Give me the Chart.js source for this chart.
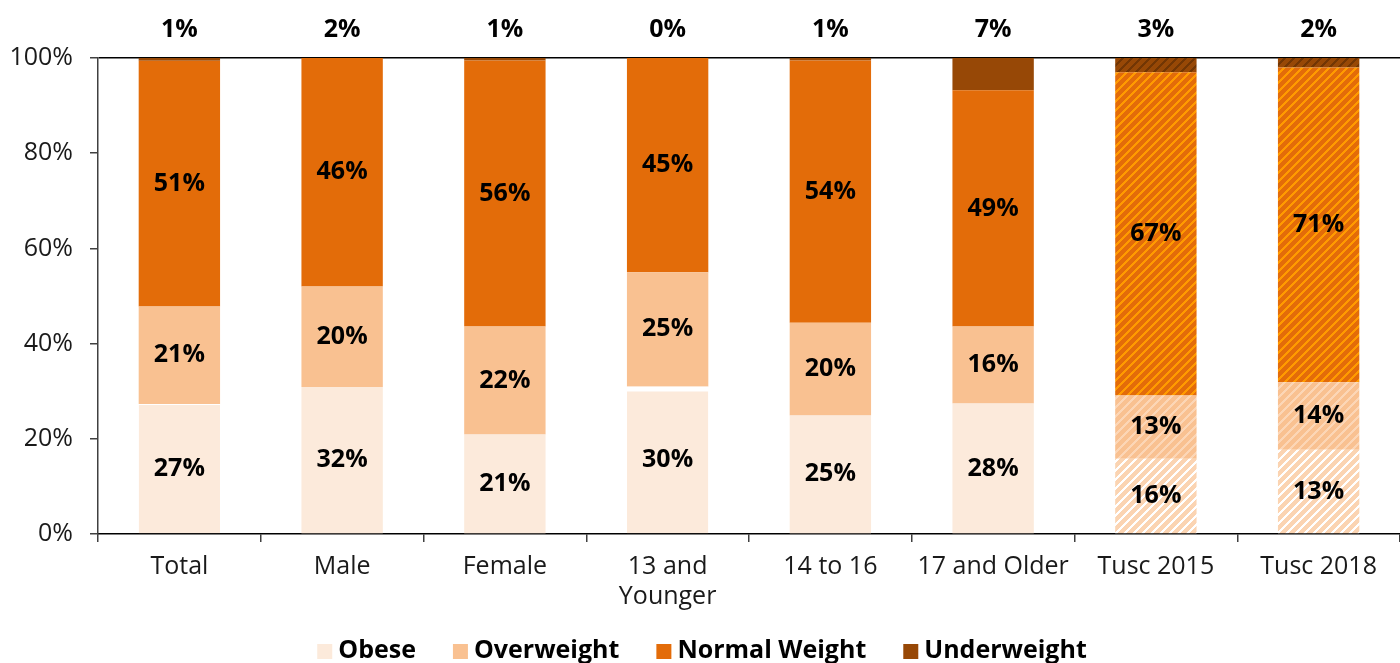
<!DOCTYPE html>
<html>
<head>
<meta charset="utf-8">
<script src="https://cdn.jsdelivr.net/npm/chart.js@4.4.1/dist/chart.umd.min.js"></script>
<style>
  html, body { margin: 0; padding: 0; background: #fff; }
  #wrap { width: 1400px; height: 663px; position: relative; }
</style>
</head>
<body>
<div id="wrap"><canvas id="chart"></canvas></div>
<script>
const categories = ['Total', 'Male', 'Female', ['13 and', 'Younger'], '14 to 16', '17 and Older', 'Tusc 2015', 'Tusc 2018'];
const seriesNames = ['Obese', 'Overweight', 'Normal Weight', 'Underweight'];

// bar heights as drawn (percent of respondents)
const obese = [27.3, 30.9, 20.9, 31, 24.9, 27.4, 15.8, 17.7];
const overweight = [20.5, 21.1, 22.7, 24, 19.5, 16.2, 13.3, 14.2];
const normalWeight = [51.6, 48, 55.9, 45, 55.1, 49.6, 67.9, 66.1];
const underweight = [0.6, 0, 0.5, 0, 0.5, 6.8, 3, 2];

// the numbers printed on the chart
const obeseText = [27, 32, 21, 30, 25, 28, 16, 13];
const overweightText = [21, 20, 22, 25, 20, 16, 13, 14];
const normalText = [51, 46, 56, 45, 54, 49, 67, 71];
const underweightText = [1, 2, 1, 0, 1, 7, 3, 2];

const yTicks = [0, 20, 40, 60, 80, 100];

const canvas = document.getElementById('chart');
const ctx = canvas.getContext('2d');

function makeHatch(base, stripe) {
  const tile = document.createElement('canvas');
  tile.width = 9;
  tile.height = 9;
  const g = tile.getContext('2d');
  g.fillStyle = base;
  g.fillRect(0, 0, 9, 9);
  g.fillStyle = stripe;
  for (let y = 0; y < 9; y++) {
    for (let x = 0; x < 9; x++) {
      if ((x + y) % 9 < 3) g.fillRect(x, y, 1, 1);
    }
  }
  return ctx.createPattern(tile, 'repeat');
}

const solid = ['#FCEADB', '#F9C191', '#E36C09', '#974806'];
const hatched = [
  makeHatch('#FBD4B2', '#FFFFFF'),
  makeHatch('#F9C191', '#FCD6B6'),
  makeHatch('#E36C09', '#FF9A00'),
  makeHatch('#974806', '#723604'),
];

// Tusc bars (last two) are hatched
const fillFor = i => c => (c.dataIndex >= 6 ? hatched[i] : solid[i]);

const fontFamily = '"Open Sans", "DejaVu Sans", sans-serif';
const font = { family: fontFamily, size: 25 };

const valueLabels = {
  id: 'valueLabels',
  afterDatasetsDraw(chart) {
    const { ctx, chartArea } = chart;
    ctx.save();
    ctx.font = 'bold 25px ' + fontFamily;
    ctx.fillStyle = '#000';
    ctx.textAlign = 'center';
    ctx.textBaseline = 'middle';
    chart.data.datasets.forEach((ds, i) => {
      chart.getDatasetMeta(i).data.forEach((bar, j) => {
        const y = i === 3 ? chartArea.top - 28 : (bar.y + bar.base) / 2;
        ctx.fillText(ds.printed[j] + '%', bar.x, y);
      });
    });
    ctx.restore();
  }
};

const bottomLegend = {
  id: 'bottomLegend',
  afterDraw(chart) {
    const { ctx, width, height } = chart;
    ctx.save();
    ctx.font = 'bold 25px ' + fontFamily;
    ctx.textBaseline = 'middle';
    ctx.textAlign = 'left';
    const box = 15, gapText = 6, gapItem = 37;
    const items = chart.data.datasets.map((ds, i) => ({ text: ds.label, color: solid[i], w: ctx.measureText(ds.label).width }));
    const total = items.reduce((s, it) => s + box + gapText + it.w, 0) + gapItem * (items.length - 1);
    let x = width / 2 - total / 2 + 2;
    const y = height - 12;
    items.forEach(it => {
      ctx.fillStyle = it.color;
      ctx.fillRect(x, y - 7, box, box);
      ctx.fillStyle = '#000';
      ctx.fillText(it.text, x + box + gapText, y);
      x += box + gapText + it.w + gapItem;
    });
    ctx.restore();
  }
};

new Chart(ctx, {
  type: 'bar',
  data: {
    labels: categories,
    datasets: [
      {
        label: seriesNames[0], data: obese, printed: obeseText, backgroundColor: fillFor(0),
        borderColor: '#FFFFFF',
        borderSkipped: false,
        borderWidth: c => ({ top: c.dataIndex === 3 ? 5 : (c.dataIndex === 0 ? 1 : 0), left: 0, right: 0, bottom: 0 }),
      },
      { label: seriesNames[1], data: overweight, printed: overweightText, backgroundColor: fillFor(1) },
      { label: seriesNames[2], data: normalWeight, printed: normalText, backgroundColor: fillFor(2) },
      { label: seriesNames[3], data: underweight, printed: underweightText, backgroundColor: fillFor(3) },
    ],
  },
  options: {
    responsive: true,
    maintainAspectRatio: false,
    animation: false,
    barPercentage: 0.5,
    categoryPercentage: 1,
    layout: { padding: { top: 58, left: 0, right: -7, bottom: 41 } },
    plugins: {
      legend: { display: false },
      tooltip: { enabled: false },
    },
    scales: {
      x: {
        stacked: true,
        border: { color: '#000', width: 1.5 },
        grid: { color: 'transparent', tickColor: '#404040', tickLength: 8, lineWidth: 1.5 },
        ticks: { font, color: '#1a1a1a', padding: 10, maxRotation: 0, autoSkip: false, lineHeight: 1.25 },
      },
      y: {
        stacked: true,
        min: 0,
        max: 100,
        afterBuildTicks: axis => { axis.ticks = yTicks.map(v => ({ value: v })); },
        afterFit: axis => { axis.width = 98; },
        border: { color: '#404040', width: 1.5 },
        grid: {
          color: c => (c.tick && c.tick.value === 100 ? '#000' : 'transparent'),
          tickColor: '#404040',
          tickLength: 8,
          lineWidth: 1.5,
        },
        ticks: { font, color: '#1a1a1a', padding: 17, callback: v => v + '%' },
      },
    },
  },
  plugins: [valueLabels, bottomLegend],
});
</script>
</body>
</html>
